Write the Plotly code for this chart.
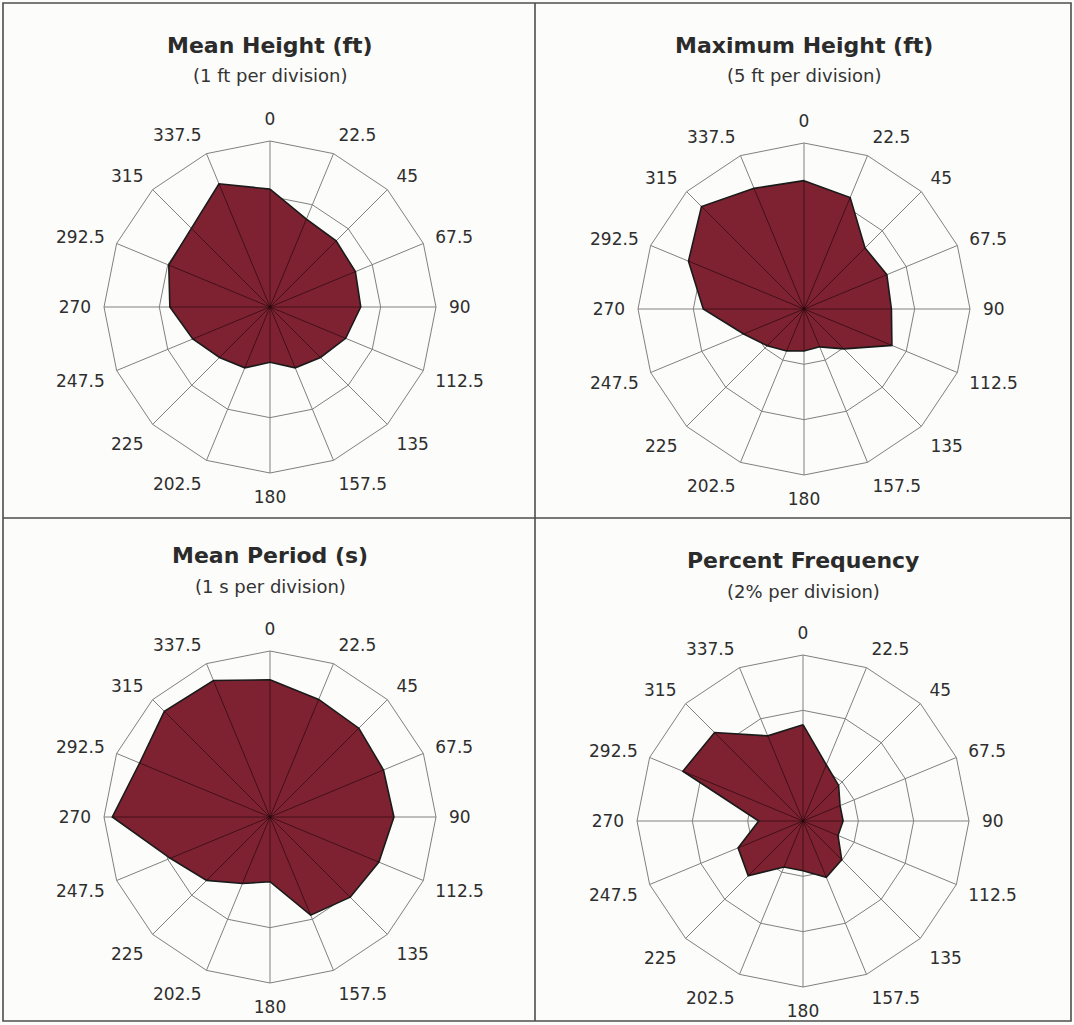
import plotly.graph_objects as go

# ---------------- data ----------------
directions = ["0", "22.5", "45", "67.5", "90", "112.5", "135", "157.5",
              "180", "202.5", "225", "247.5", "270", "292.5", "315", "337.5"]

mean_height_ft = [2.13, 1.72, 1.69, 1.67, 1.64, 1.48, 1.29, 1.19,
                  1.00, 1.19, 1.29, 1.51, 1.81, 1.98, 2.01, 2.41]

max_height_ft = [11.6, 10.9, 7.8, 8.1, 7.9, 8.6, 5.1, 3.7,
                 3.8, 4.1, 4.7, 5.9, 9.1, 11.3, 13.1, 11.8]

mean_period_s = [2.48, 2.30, 2.27, 2.22, 2.24, 2.13, 2.05, 1.92,
                 1.17, 1.30, 1.62, 1.95, 2.85, 2.55, 2.70, 2.67]

percent_frequency = [3.48, 2.20, 1.82, 1.45, 1.45, 1.37, 1.98, 2.20,
                     1.80, 1.80, 2.80, 2.54, 1.60, 4.70, 4.52, 3.33]

titles = ["Mean Height (ft)", "Maximum Height (ft)", "Mean Period (s)", "Percent Frequency"]
subtitles = ["(1 ft per division)", "(5 ft per division)", "(1 s per division)", "(2% per division)"]
divisions = [1, 5, 1, 2]
n_divisions = 3
series = [mean_height_ft, max_height_ft, mean_period_s, percent_frequency]

# ---------------- layout geometry (pixels) ----------------
W, H = 1074, 1025
R = 166
centers = [(270, 307), (804, 309), (270, 817), (803, 821)]
title_y = [45, 45, 555, 560]
sub_y = [76, 76, 586, 591]

FILL = "#7E2232"
GRID = "#808080"
FONT = "DejaVu Sans, Liberation Sans, Arial, sans-serif"

fig = go.Figure()
layout_polars = {}
annotations = []

for i, (vals, dv) in enumerate(zip(series, divisions)):
    pid = "polar" if i == 0 else f"polar{i+1}"
    cx, cy = centers[i]
    dom_x = [(cx - R) / W, (cx + R) / W]
    dom_y = [1 - (cy + R) / H, 1 - (cy - R) / H]

    # filled rose polygon
    fig.add_trace(go.Scatterpolar(
        r=vals + [vals[0]], theta=directions + [directions[0]],
        mode="lines", fill="toself", fillcolor=FILL,
        line=dict(color="#1a1a1a", width=1.6),
        subplot=pid, showlegend=False, hoverinfo="skip"))

    # spokes drawn over the fill (from centre to the data value)
    sr, st = [], []
    for d, v in zip(directions, vals):
        sr += [0, v, None]
        st += [d, d, None]
    fig.add_trace(go.Scatterpolar(
        r=sr, theta=st, mode="lines",
        line=dict(color="rgba(40,8,14,0.7)", width=1),
        connectgaps=False, subplot=pid, showlegend=False, hoverinfo="skip"))

    # centre dot
    fig.add_trace(go.Scatterpolar(
        r=[0], theta=[directions[0]], mode="markers",
        marker=dict(color="#111", size=6),
        subplot=pid, showlegend=False, hoverinfo="skip"))

    layout_polars[pid] = dict(
        domain=dict(x=dom_x, y=dom_y),
        bgcolor="rgba(0,0,0,0)",
        gridshape="linear",
        angularaxis=dict(
            type="category", categoryorder="array", categoryarray=directions,
            direction="clockwise", rotation=90,
            showline=True, linecolor=GRID, linewidth=1,
            showgrid=True, gridcolor=GRID, gridwidth=1,
            ticks="outside", ticklen=9, tickcolor="rgba(0,0,0,0)",
            tickfont=dict(family=FONT, size=17, color="#2e2e2e"),
        ),
        radialaxis=dict(
            range=[0, dv * n_divisions], dtick=dv, tick0=0,
            showticklabels=False, ticks="", showline=False,
            showgrid=True, gridcolor=GRID, gridwidth=1,
        ),
    )

    annotations.append(dict(
        text=f"<b>{titles[i]}</b>", x=cx / W, y=1 - title_y[i] / H,
        xref="paper", yref="paper", showarrow=False,
        xanchor="center", yanchor="middle",
        font=dict(family=FONT, size=22, color="#2b2b2b")))
    annotations.append(dict(
        text=subtitles[i], x=cx / W, y=1 - sub_y[i] / H,
        xref="paper", yref="paper", showarrow=False,
        xanchor="center", yanchor="middle",
        font=dict(family=FONT, size=18, color="#333")))

BORDER = "#4d4d4d"
shapes = [
    dict(type="rect", xref="paper", yref="paper",
         x0=3 / W, x1=1071 / W, y0=1 - 1021 / H, y1=1 - 3 / H,
         line=dict(color=BORDER, width=1.6)),
    dict(type="line", xref="paper", yref="paper",
         x0=535 / W, x1=535 / W, y0=1 - 1021 / H, y1=1 - 3 / H,
         line=dict(color=BORDER, width=1.6)),
    dict(type="line", xref="paper", yref="paper",
         x0=3 / W, x1=1071 / W, y0=1 - 518 / H, y1=1 - 518 / H,
         line=dict(color=BORDER, width=1.6)),
]

fig.update_layout(
    width=W, height=H,
    margin=dict(l=0, r=0, t=0, b=0),
    paper_bgcolor="#FCFCFA", plot_bgcolor="#FCFCFA",
    annotations=annotations, shapes=shapes,
    **layout_polars,
)

fig.write_html(
    "out.html",
    config={"displayModeBar": False},
    post_script="document.body.style.margin='0';document.body.style.overflow='hidden';",
)
